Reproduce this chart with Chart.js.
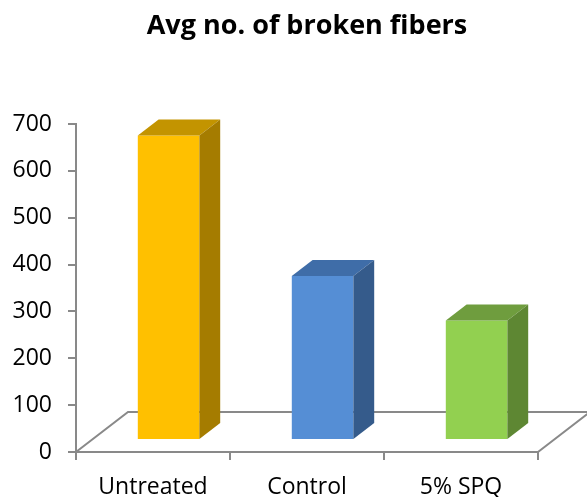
<!DOCTYPE html>
<html>
<head>
<meta charset="utf-8"/>
<style>
  html,body{margin:0;padding:0;background:#fff;}
  .wrap{width:587px;height:497px;}
</style>
</head>
<body>
<div class="wrap"><canvas id="c"></canvas></div>
<script src="https://cdn.jsdelivr.net/npm/chart.js@4.4.0/dist/chart.umd.min.js"></script>
<script>
const categories  = ['Untreated', 'Control', '5% SPQ'];
const values      = [650, 350, 255];
const yTicks      = [0, 100, 200, 300, 400, 500, 600, 700];
const frontColors = ['#FFC000', '#558ED5', '#92D050'];
const topColors   = ['#C39400', '#3F6DA8', '#6F9D3E'];
const sideColors  = ['#A57C00', '#355B8B', '#5E8733'];

const AXIS  = '#898989';
const DEPTH = { dx: 52, dy: -40 };   // floor depth
const FRONT = 0.3, BACK = 0.7;       // bars sit between these fractions of the depth

// fake 3d: floor lines + top / side faces of each bar
const bars3d = {
  id: 'bars3d',
  beforeDatasetsDraw(chart) {
    const { ctx, chartArea: a } = chart;
    const y0 = chart.scales.y.getPixelForValue(0);
    ctx.save();
    ctx.strokeStyle = AXIS; ctx.lineWidth = 2;
    ctx.beginPath();
    ctx.moveTo(a.left, y0);
    ctx.lineTo(a.left + DEPTH.dx, y0 + DEPTH.dy);
    ctx.lineTo(a.right + DEPTH.dx, y0 + DEPTH.dy);
    ctx.lineTo(a.right, y0);
    ctx.stroke();
    ctx.restore();
    ctx.save();
    ctx.translate(DEPTH.dx * FRONT, DEPTH.dy * FRONT);
  },
  afterDatasetsDraw(chart) {
    const { ctx } = chart;
    ctx.restore();
    const ox = DEPTH.dx * FRONT, oy = DEPTH.dy * FRONT;
    const bx = DEPTH.dx * (BACK - FRONT), by = DEPTH.dy * (BACK - FRONT);
    chart.getDatasetMeta(0).data.forEach((el, i) => {
      const x0 = el.x - el.width / 2 + ox, x1 = el.x + el.width / 2 + ox;
      const yt = el.y + oy, yb = el.base + oy;
      ctx.fillStyle = topColors[i];
      ctx.beginPath();
      ctx.moveTo(x0, yt); ctx.lineTo(x1, yt);
      ctx.lineTo(x1 + bx, yt + by); ctx.lineTo(x0 + bx, yt + by);
      ctx.closePath(); ctx.fill();
      ctx.fillStyle = sideColors[i];
      ctx.beginPath();
      ctx.moveTo(x1, yt); ctx.lineTo(x1 + bx, yt + by);
      ctx.lineTo(x1 + bx, yb + by); ctx.lineTo(x1, yb);
      ctx.closePath(); ctx.fill();
    });
  }
};

new Chart(document.getElementById('c'), {
  type: 'bar',
  data: {
    labels: categories,
    datasets: [{
      data: values,
      backgroundColor: frontColors,
      borderWidth: 0,
      barPercentage: 0.4,
      categoryPercentage: 1
    }]
  },
  options: {
    responsive: true, maintainAspectRatio: false, animation: false,
    layout: { padding: { right: 49 } },
    plugins: {
      legend: { display: false },
      tooltip: { enabled: false },
      title: {
        display: true, fullSize: false,
        text: 'Avg no. of broken fibers',
        color: '#000',
        font: { family: 'Open Sans', size: 27, weight: 'bold' },
        padding: { top: 10, bottom: 81.6 }
      }
    },
    scales: {
      x: {
        grid: { offset: true, drawOnChartArea: false, color: AXIS, lineWidth: 2, tickLength: 8 },
        border: { color: AXIS, width: 2 },
        ticks: { color: '#000', padding: 14, font: { family: 'Open Sans', size: 23 } },
        afterFit: s => { s.height = 45; }
      },
      y: {
        min: 0, max: 700,
        afterBuildTicks: s => { s.ticks = yTicks.map(v => ({ value: v })); },
        grid: { drawOnChartArea: false, color: AXIS, lineWidth: 2, tickLength: 8 },
        border: { color: AXIS, width: 2 },
        ticks: { color: '#000', padding: 16, font: { family: 'Open Sans', size: 23 } },
        afterFit: s => { s.width = 76; }
      }
    }
  },
  plugins: [bars3d]
});
</script>
</body>
</html>
